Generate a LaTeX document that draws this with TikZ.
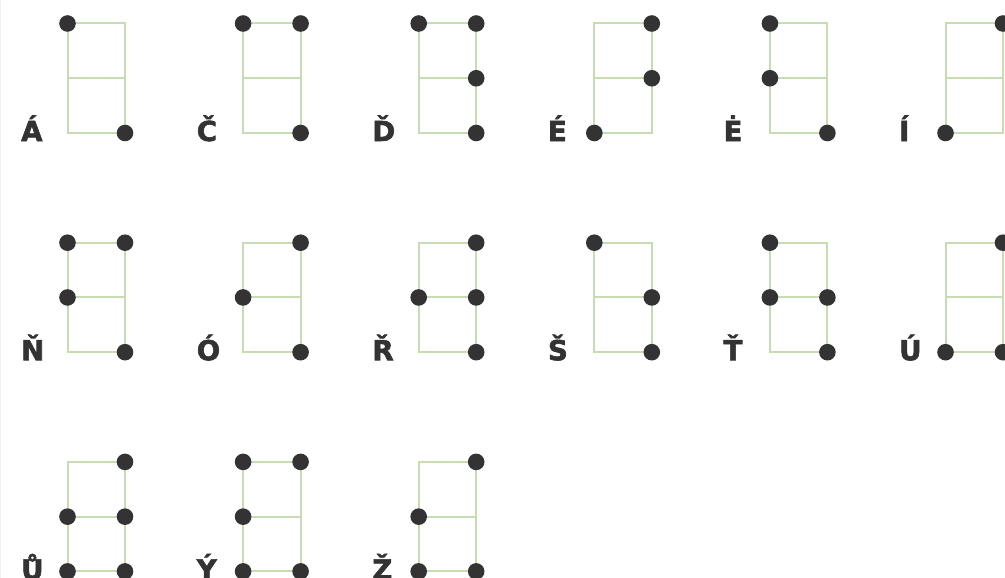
\documentclass[tikz,border=0pt]{standalone}
\usepackage{fontspec}
\setmainfont{DejaVu Sans}
\newfontfamily\labelfont[FakeBold=2.2]{DejaVu Sans Bold}
\definecolor{gridgreen}{HTML}{C8DCB4}
\definecolor{dotgray}{HTML}{333333}
\begin{document}
\begin{tikzpicture}[x=1pt,y=-1pt,
  gridline/.style={draw=gridgreen,line width=2pt},
  dot/.style={circle,fill=dotgray,inner sep=0pt,minimum size=16.6pt},
  glyph/.style={anchor=base west,inner sep=0pt,font=\labelfont\fontsize{27.5}{27.5}\selectfont,text=dotgray}]
\useasboundingbox (0,0) rectangle (1005,578);
\draw[gray!12,line width=1pt] (0.5,0) -- (0.5,578);
% letter / column / row / dots (column index, row index)
\foreach \ch/\c/\r/\pts [count=\k] in {
  Á/0/0/{0/0,1/2},
  Č/1/0/{0/0,1/0,1/2},
  Ď/2/0/{0/0,1/0,1/1,1/2},
  É/3/0/{1/0,1/1,0/2},
  Ė/4/0/{0/0,0/1,1/2},
  Í/5/0/{1/0,0/2},
  Ň/0/1/{0/0,1/0,0/1,1/2},
  Ó/1/1/{1/0,0/1,1/2},
  Ř/2/1/{1/0,0/1,1/1,1/2},
  Š/3/1/{0/0,1/1,1/2},
  Ť/4/1/{0/0,0/1,1/1,1/2},
  Ú/5/1/{1/0,0/2,1/2},
  Ů/0/2/{1/0,0/1,1/1,0/2,1/2},
  Ý/1/2/{0/0,1/0,0/1,0/2,1/2},
  Ž/2/2/{1/0,0/1,0/2,1/2}} {
  \pgfmathsetmacro\L{67.5+175.6*\c}
  \pgfmathsetmacro\T{23.5+219.2*\r}
  \begin{scope}[shift={(\L,\T)}]
    \draw[gridline] (0,0) rectangle (57.5,109.5) (0,54.75) -- (57.5,54.75);
    \node[glyph] (label\k) at (-46.5,117.5) {\ch};
    \foreach \i/\j in \pts {
      \node[dot] (d\k-\i\j) at (57.5*\i,54.75*\j) {};
    }
  \end{scope}
}
\end{tikzpicture}
\end{document}
